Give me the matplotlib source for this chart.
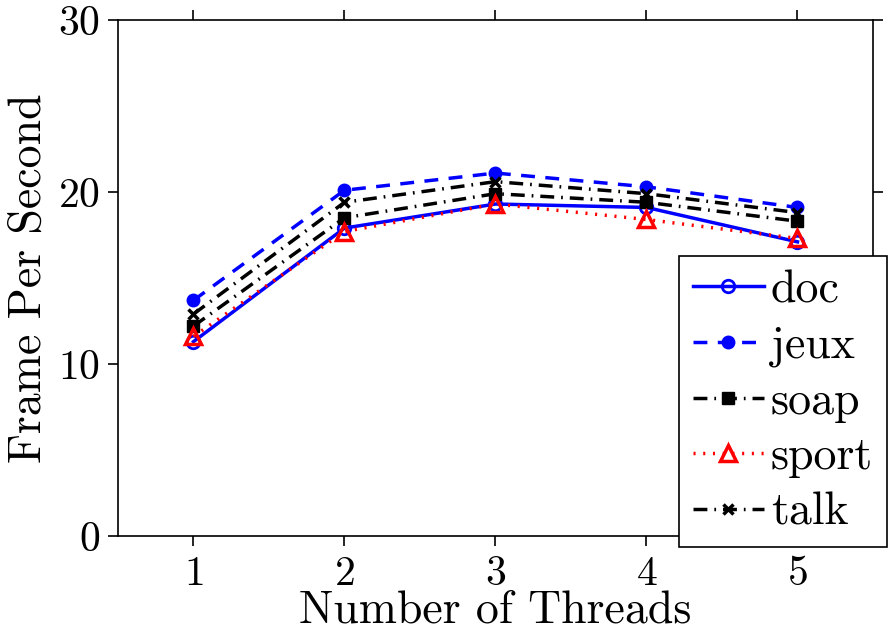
import matplotlib
matplotlib.use("Agg")
import matplotlib.pyplot as plt

plt.rcParams['font.family'] = 'serif'
plt.rcParams['font.serif'] = ['cmr10', 'DejaVu Serif']
plt.rcParams['mathtext.fontset'] = 'cm'
plt.rcParams['axes.unicode_minus'] = False
plt.rcParams['axes.formatter.use_mathtext'] = True

threads = [1, 2, 3, 4, 5]
doc = [11.3, 17.9, 19.3, 19.1, 17.1]
jeux = [13.7, 20.1, 21.1, 20.3, 19.1]
soap = [12.2, 18.5, 19.9, 19.4, 18.3]
sport = [11.6, 17.7, 19.3, 18.4, 17.3]
talk = [12.9, 19.4, 20.6, 19.9, 18.8]

fig = plt.figure(figsize=(8.89, 6.38), dpi=100)
ax = fig.add_axes([0.1327, 0.1599, 0.982 - 0.1327, 0.9687 - 0.1599])

lw = 2.5
dashdot = (0, (4, 2, 0.5, 2))
ax.plot(threads, doc, color='blue', linestyle='-', linewidth=lw, marker='o',
        markersize=9, markerfacecolor='none', markeredgecolor='blue', markeredgewidth=2, label='doc')
ax.plot(threads, jeux, color='blue', linestyle=(0, (4, 3)), linewidth=lw, marker='o',
        markersize=9, markerfacecolor='blue', markeredgecolor='blue', label='jeux')
ax.plot(threads, soap, color='black', linestyle=dashdot, linewidth=lw, marker='s',
        markersize=9, markerfacecolor='black', markeredgecolor='black', label='soap')
ax.plot(threads, sport, color='red', linestyle=(0, (0.6, 2.2)), linewidth=lw, marker='^',
        markersize=11, markerfacecolor='none', markeredgecolor='red', markeredgewidth=2.5, label='sport')
ax.plot(threads, talk, color='black', linestyle=dashdot, linewidth=lw, marker='x',
        markersize=7, markeredgewidth=2.5, label='talk')

ax.set_xlim(0.5, 5.5)
ax.set_ylim(0, 30)
ax.set_xticks(threads)
ax.set_yticks([0, 10, 20, 30])
ax.tick_params(direction='out', length=7, width=1.2, labelsize=30, top=True, right=True,
               labeltop=False, labelright=False)
ax.tick_params(axis='x', pad=7)
ax.tick_params(axis='y', pad=6)
for s in ax.spines.values():
    s.set_linewidth(1.2)

ax.set_xlabel('Number of Threads', fontsize=33, labelpad=-2)
ax.set_ylabel('Frame Per Second', fontsize=33, labelpad=6)

leg = ax.legend(loc='lower right', bbox_to_anchor=(0.9975, 0.142), bbox_transform=fig.transFigure,
                fontsize=33, frameon=True, fancybox=False, edgecolor='black', framealpha=1,
                handlelength=1.55, handletextpad=0.15, borderpad=0.3, labelspacing=0.3,
                borderaxespad=0)
leg.get_frame().set_linewidth(1.2)

fig.savefig('out.png', dpi=100)
